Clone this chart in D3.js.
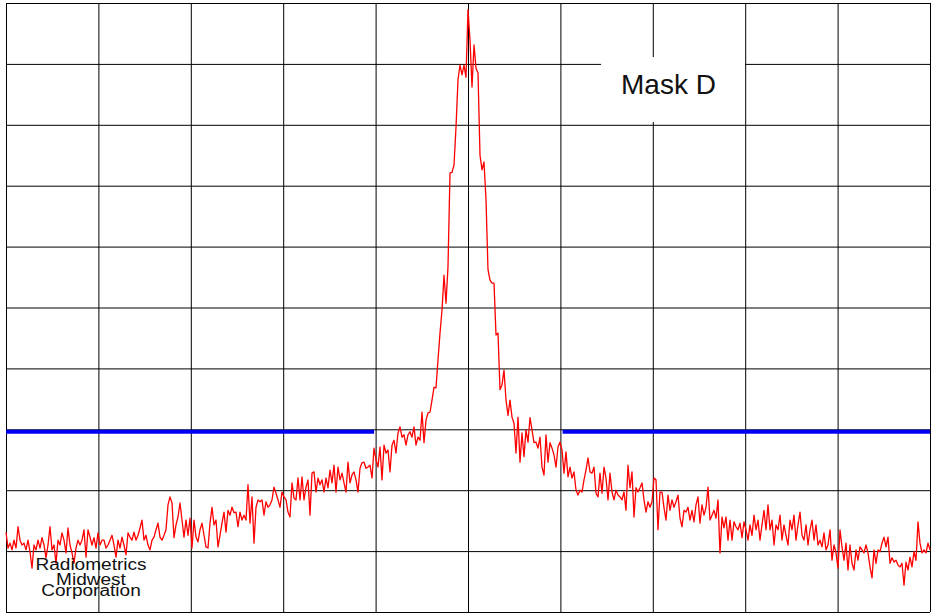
<!DOCTYPE html>
<html>
<head>
<meta charset="utf-8">
<script src="https://cdn.jsdelivr.net/npm/d3@7"></script>
<style>
  html, body { margin: 0; padding: 0; background: #fff; }
  svg { display: block; }
</style>
</head>
<body>
<svg id="chart" width="932" height="614"></svg>
<script>
// Sweep settings (kHz offset from carrier) and display range (dBc)
const sweepStart = -62.5;
const sweepStop = 62.5;
const levelTop = 0;
const levelBottom = -100;

// Graticule divisions
const freqTicks = [-62.5, -50, -37.5, -25, -12.5, 0, 12.5, 25, 37.5, 50, 62.5];
const levelTicks = [0, -10, -20, -30, -40, -50, -60, -70, -80, -90, -100];

// Emission mask D limit segments (kHz) and level (dBc)
const maskSegments = [[-62.5, -12.7], [12.8, 62.5]];
const maskLevel = -70.4;

const maskLabel = "Mask D";
const creditLines = ["Radiometrics", "Midwest", "Corporation"];

// Measured trace, evenly spaced points across the sweep (dBc)
const traceLevel = [
  -86.9,-89.5,-88.7,-89.8,-88.2,-89.5,-86.0,-88.2,-89.0,-88.7,
  -89.8,-88.2,-90.1,-92.8,-89.0,-89.8,-88.2,-89.5,-87.8,-89.0,
  -91.1,-89.0,-86.0,-89.8,-89.0,-92.0,-88.2,-89.0,-87.0,-88.2,
  -90.3,-86.2,-89.0,-90.3,-92.0,-89.5,-88.2,-89.0,-88.2,-86.5,
  -91.0,-86.5,-87.7,-89.0,-87.8,-89.5,-87.0,-89.0,-88.2,-88.2,
  -89.5,-89.0,-88.2,-87.4,-89.0,-91.0,-88.2,-89.5,-87.7,-89.0,
  -90.6,-87.0,-87.7,-88.2,-86.9,-88.2,-87.4,-86.2,-84.9,-88.2,
  -87.4,-89.0,-89.8,-88.2,-87.7,-86.5,-85.4,-87.7,-88.2,-87.4,
  -86.5,-82.4,-81.1,-82.1,-87.8,-85.7,-84.4,-82.1,-84.9,-87.7,
  -84.9,
  -87.4,-84.6,-89.5,-84.9,-87.7,-88.5,-86.5,-85.4,-87.4,-89.3,
  -89.5,-85.4,-82.8,-85.7,-84.9,-89.3,-87.4,-85.4,-83.6,-86.9,
  -83.3,-84.1,-82.8,-83.7,-83.6,-86.0,-83.6,-84.9,-84.1,-84.9,
  -79.1,-85.4,-81.1,-88.7,-82.8,-81.6,-81.9,-81.6,-84.1,-81.9,
  -82.8,-82.4,-81.6,-79.5,-80.5,-81.6,-82.8,-80.3,-81.1,-81.6,
  -83.6,-84.4,-78.8,-81.3,-81.6,-78.0,-81.6,-77.8,-81.6,-79.5,
  -78.3,-84.1,-77.2,-77.0,-80.3,-78.0,-79.1,-78.3,-80.3,-78.0,
  -79.6,-76.7,-78.8,-75.9,-80.3,-76.2,-78.3,-77.2,-78.8,-80.3,
  -75.4,-78.8,-77.5,-77.0,-78.3,-80.3,-76.4,-75.5,-75.4,-76.4,
  -76.2,-75.9,
  -78.0,-73.1,-75.0,-76.2,-72.9,-78.3,-72.6,-73.9,-73.4,-77.0,
  -72.6,-71.8,-73.9,-70.6,-69.6,-71.3,-70.9,-72.6,-70.9,-70.4,
  -71.3,-69.6,-72.6,-71.3,-71.8,-67.2,-72.2,-68.5,-67.3,-67.2,
  -65.2,-63.1,-63.2,-58.6,-54.2,-50.4,-44.7,-49.3,-43.3,-27.9,
  -27.8,-26.6,-20.4,-12.6,-10.2,-11.8,-10.2,-12.2,-1.1,
  -6.1,-13.8,-6.9,-10.7,-11.5,-25.0,-27.4,-26.1,-32.3,-43.8,
  -45.5,-46.0,-46.0,-54.5,-54.2,-63.5,-62.7,-60.3,-65.2,-67.7,
  -65.2,-68.0,-69.0,-73.9,-68.0,-75.4,-70.6,-74.5,-70.1,-72.1,
  -68.1,-70.1,-72.2,-72.1,-73.1,-71.3,-76.2,-77.5,-70.9,-75.4,
  -72.2,-73.1,-74.2,-76.2,-72.9,-72.1,-73.4,-77.2,
  -73.7,-77.8,-76.2,-78.0,-77.0,-80.0,-80.8,-80.0,-80.3,-78.3,
  -76.7,-74.7,-77.0,-77.2,-76.2,-80.5,-81.1,-77.2,-80.5,-76.2,
  -78.0,-81.6,-77.2,-80.3,-81.6,-80.0,-80.8,-81.1,-81.6,-80.3,
  -83.3,-75.9,-79.6,-77.0,-84.4,-79.6,-80.3,-79.6,-78.8,-81.6,
  -83.6,-81.9,-82.8,-81.9,-78.0,-78.3,-86.5,-80.3,-80.3,-82.9,
  -84.9,-80.8,-83.3,-81.6,-82.8,-81.9,-80.8,-84.6,-86.0,-83.3,
  -83.6,-82.8,-84.9,-83.3,-85.2,-82.4,-81.1,-85.4,-82.4,-84.1,
  -82.8,-79.5,-84.9,-84.1,-83.3,-84.6,-81.6,-90.3,-84.4,-86.2,
  -84.4,-88.2,-84.9,-88.2,-85.2,-86.0,-86.5,-85.4,-87.8,-85.2,
  -86.5,-88.2,
  -85.7,-87.4,-84.1,-86.5,-84.9,-88.2,-85.7,-83.3,-86.5,-82.4,
  -86.5,-84.9,-89.0,-85.7,-86.5,-84.1,-88.2,-85.7,-87.4,-89.0,
  -84.9,-86.5,-84.1,-88.2,-85.7,-83.6,-87.4,-88.2,-85.7,-89.0,
  -86.5,-84.9,-88.2,-85.7,-89.0,
  -88.2,-89.3,-87.0,-89.8,-89.0,-86.5,-91.5,-89.0,-90.3,-92.8,
  -86.5,-89.3,-91.5,-88.7,-93.1,-89.0,-92.0,-93.1,-89.8,-91.5,
  -89.3,-89.8,-90.3,-89.0,-90.3,-92.6,-94.4,-89.8,-92.0,-89.8,
  -90.1,-88.7,-87.7,-89.3,-87.7,-92.0,-91.1,-91.8,-91.5,-92.3,
  -92.6,-92.0,-95.6,-91.8,-93.1,-91.0,-92.6,-90.1,-91.5,-85.2,
  -88.7,-90.3,-89.8,-90.3,-88.7,-89.8
];

const svg = d3.select("#chart");
const plot = { left: 6, top: 3, right: 930, bottom: 612 };

const x = d3.scaleLinear().domain([sweepStart, sweepStop]).range([plot.left, plot.right]);
const y = d3.scaleLinear().domain([levelTop, levelBottom]).range([plot.top, plot.bottom]);

svg.append("rect").attr("width", 932).attr("height", 614).attr("fill", "#fff");

// Graticule from axes with full-length ticks
const gx = svg.append("g")
  .attr("transform", `translate(0,${plot.top})`)
  .call(d3.axisBottom(x).tickValues(freqTicks).tickSize(plot.bottom - plot.top).tickFormat(""));
const gy = svg.append("g")
  .attr("transform", `translate(${plot.left},0)`)
  .call(d3.axisRight(y).tickValues(levelTicks).tickSize(plot.right - plot.left).tickFormat(""));
[gx, gy].forEach(g => {
  g.select(".domain").remove();
  g.selectAll(".tick line").attr("stroke", "#000").attr("stroke-width", 1);
});

// Spectrum trace
const step = (sweepStop - sweepStart) / (traceLevel.length - 1);
const tracePts = traceLevel.map((v, i) => [sweepStart + i * step, v]);
svg.append("path")
  .datum(tracePts)
  .attr("fill", "none")
  .attr("stroke", "#ff0000")
  .attr("stroke-width", 1.3)
  .attr("stroke-linejoin", "round")
  .attr("d", d3.line().x(d => x(d[0])).y(d => y(d[1])));

// Mask limit
svg.selectAll("line.mask")
  .data(maskSegments)
  .join("line")
  .attr("class", "mask")
  .attr("x1", d => x(d[0]))
  .attr("x2", d => x(d[1]))
  .attr("y1", y(maskLevel))
  .attr("y2", y(maskLevel))
  .attr("stroke", "#0000f0")
  .attr("stroke-width", 4);

// Mask name label on a white card
svg.append("rect")
  .attr("x", 601).attr("y", 57).attr("width", 144).attr("height", 65)
  .attr("fill", "#fff");
svg.append("text")
  .attr("x", 668.5).attr("y", 94)
  .attr("text-anchor", "middle")
  .attr("font-family", "'Liberation Sans', Arial, sans-serif")
  .attr("font-size", 28)
  .attr("fill", "#111")
  .text(maskLabel);

// Company credit, bottom left (tightly stacked lines)
const creditBaselines = [570, 584.5, 596];
const credit = svg.append("g")
  .attr("font-family", "'Liberation Sans', Arial, sans-serif")
  .attr("font-size", 16)
  .attr("fill", "#111")
  .attr("text-anchor", "middle");
credit.selectAll("text")
  .data(creditLines)
  .join("text")
  .attr("transform", (d, i) => `translate(91,${creditBaselines[i]}) scale(1.19,1)`)
  .text(d => d);
</script>
</body>
</html>
